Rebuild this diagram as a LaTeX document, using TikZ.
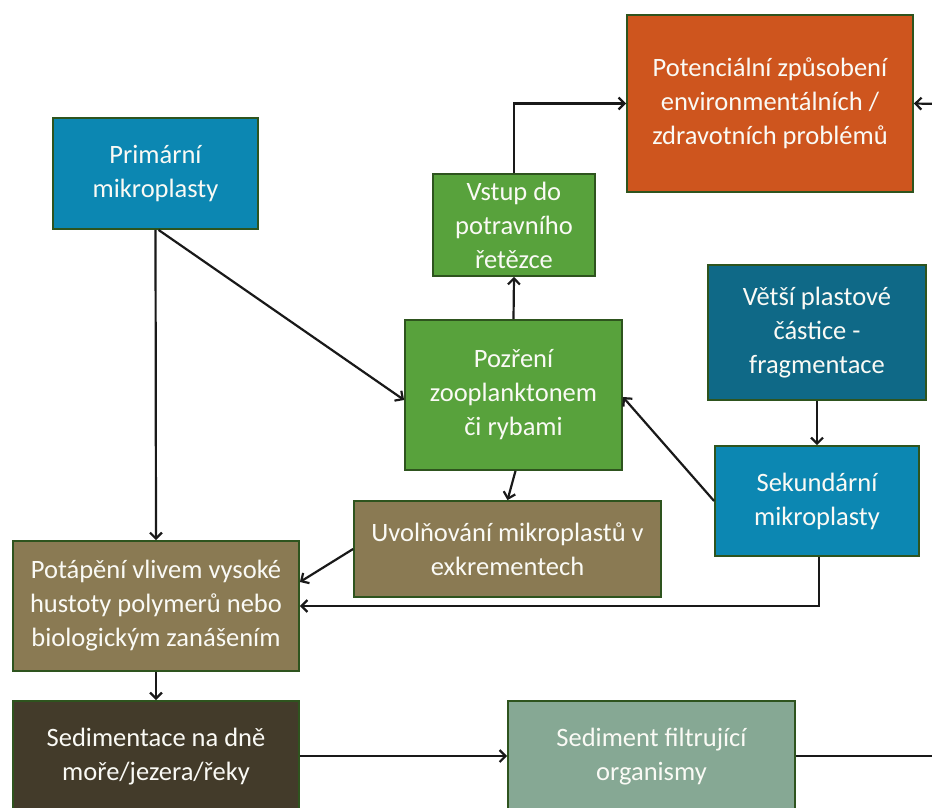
\documentclass[tikz,border=0pt]{standalone}
\usepackage{fontspec}
\setmainfont{Carlito}
\usetikzlibrary{arrows.meta}
\definecolor{cOrange}{RGB}{206,85,30}
\definecolor{cBlue}{RGB}{12,135,178}
\definecolor{cGreen}{RGB}{88,162,60}
\definecolor{cTeal}{RGB}{15,105,135}
\definecolor{cBrown}{RGB}{138,122,83}
\definecolor{cDark}{RGB}{67,59,42}
\definecolor{cSage}{RGB}{134,168,148}
\definecolor{cBorder}{RGB}{46,84,30}
\definecolor{cText}{RGB}{250,250,245}
\begin{document}
\begin{tikzpicture}[x=1pt,y=-1pt,
  box/.style={draw=cBorder, line width=1.8pt, text=cText, align=center, inner sep=2pt,
    font=\fontsize{26.5}{34}\selectfont},
  conn/.style={line width=2.2pt, draw=black!90},
  arr/.style={conn, -{Straight Barb[length=6pt,width=12pt,line width=2.2pt]}}]
\useasboundingbox (0,0) rectangle (932,808);
\node[box, fill=cOrange, minimum width=286pt, minimum height=177pt] (pot) at (770,103.5)
  {Potenciální způsobení\\environmentálních /\\zdravotních problémů};
\node[box, fill=cBlue, minimum width=205pt, minimum height=111pt] (prim) at (155.5,173.5)
  {Primární\\mikroplasty};
\node[box, fill=cGreen, minimum width=162pt, minimum height=102pt] (vstup) at (514,225)
  {Vstup do\\potravního\\řetězce};
\node[box, fill=cGreen, minimum width=217pt, minimum height=150pt] (pozr) at (513.5,395)
  {Pozření\\zooplanktonem\\či rybami};
\node[box, fill=cTeal, minimum width=218pt, minimum height=135pt] (vetsi) at (817,332.5)
  {Větší plastové\\částice -\\fragmentace};
\node[box, fill=cBlue, minimum width=204pt, minimum height=110pt] (sek) at (817,501)
  {Sekundární\\mikroplasty};
\node[box, fill=cBrown, minimum width=307pt, minimum height=96pt] (uvol) at (507.5,549)
  {Uvolňování mikroplastů v\\exkrementech};
\node[box, fill=cBrown, minimum width=286pt, minimum height=130pt] (potap) at (156,606)
  {Potápění vlivem vysoké\\hustoty polymerů nebo\\biologickým zanášením};
\node[box, fill=cDark, minimum width=286pt, minimum height=112pt] (sedim) at (156,757)
  {Sedimentace na dně\\moře/jezera/řeky};
\node[box, fill=cSage, minimum width=287pt, minimum height=112pt] (sedf) at (651.5,757)
  {Sediment filtrující\\organismy};
\coordinate (rin) at (940,104);
\coordinate (rout) at (940,756);
\draw[arr] (vstup.north) |- (pot.west);
\draw[arr] (rin) -- (pot.east);
\draw[arr] (prim.south) -- (potap.north);
\draw[arr] ([xshift=3pt]prim.south) -- ([yshift=-5pt]pozr.west);
\draw[arr] (pozr.north) -- (vstup.south);
\draw[arr] ([xshift=2pt]pozr.south) -- (uvol.north);
\draw[arr] (vetsi.south) -- (sek.south |- sek.north);
\draw[arr] (sek.west) -- ([yshift=-2pt]pozr.east);
\draw[arr] (uvol.west) -- ([yshift=24pt]potap.east);
\draw[arr] ([xshift=2pt]sek.south) |- (potap.east);
\draw[arr] (potap.south) -- (sedim.north);
\draw[arr] ([yshift=1pt]sedim.east) -- ([yshift=1pt]sedf.west);
\draw[conn] ([yshift=1pt]sedf.east) -- (rout);
\end{tikzpicture}
\end{document}
